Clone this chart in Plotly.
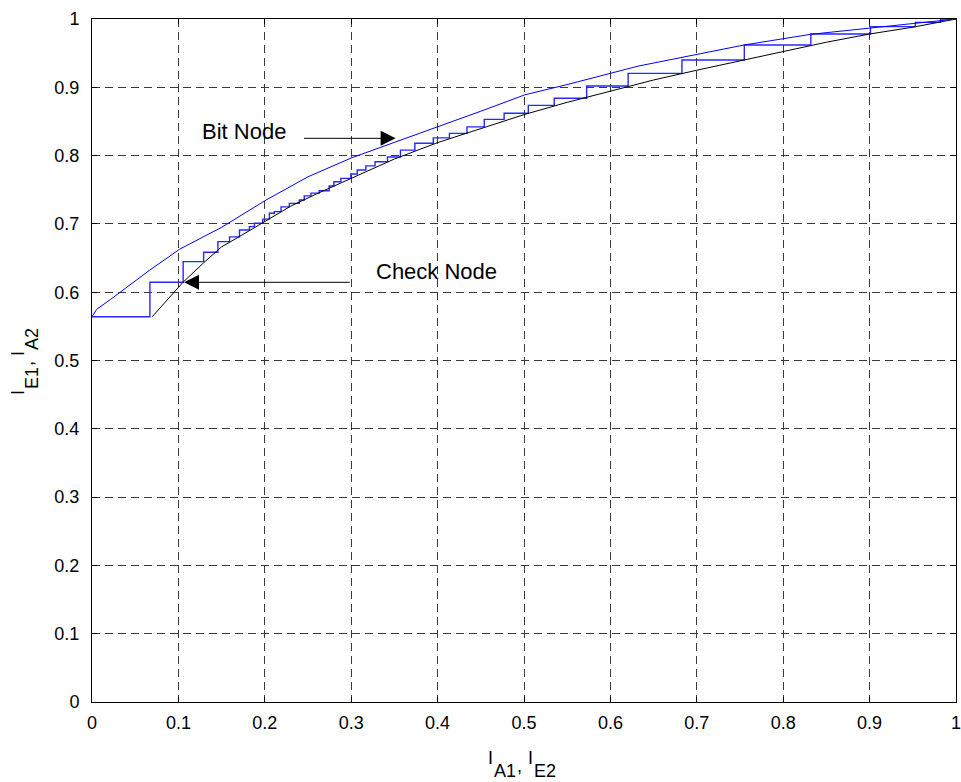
import plotly.graph_objects as go

# Bit node EXIT curve (blue)
bit_x = [0, 0.0054, 0.021, 0.044, 0.067, 0.1015, 0.15, 0.2015, 0.25, 0.301, 0.35, 0.40,
         0.45, 0.501, 0.55, 0.632, 0.70, 0.755, 0.832, 0.901, 0.95, 1.0]
bit_y = [0.564, 0.575, 0.589, 0.6105, 0.6325, 0.663, 0.695, 0.735, 0.769, 0.797, 0.819, 0.842,
         0.865, 0.889, 0.904, 0.931, 0.948, 0.962, 0.9776, 0.987, 0.994, 1.0]

# Check node EXIT curve (black, axes swapped)
chk_x = [0.0696, 0.1053, 0.1292, 0.1496, 0.1727, 0.20, 0.23, 0.26, 0.30, 0.35, 0.40, 0.45,
         0.50, 0.55, 0.60, 0.65, 0.70, 0.75, 0.80, 0.85, 0.90, 0.95, 1.0]
chk_y = [0.564, 0.6145, 0.643, 0.666, 0.683, 0.703, 0.726, 0.744, 0.767, 0.795, 0.819, 0.840,
         0.860, 0.878, 0.894, 0.9107, 0.925, 0.9386, 0.953, 0.966, 0.978, 0.988, 1.0]

# Decoding trajectory: x positions of each upward step, and levels (before/after steps)
step_x = [0.067, 0.1055, 0.1292, 0.1457, 0.1592, 0.1707, 0.1822, 0.188, 0.1976, 0.2053,
          0.211, 0.2188, 0.2284, 0.240, 0.2457, 0.2534, 0.263, 0.2745, 0.280, 0.288,
          0.2995, 0.307, 0.317, 0.3276, 0.342, 0.357, 0.3737, 0.395, 0.4137, 0.434,
          0.454, 0.477, 0.505, 0.535, 0.5725, 0.6205, 0.6828, 0.755, 0.832, 0.901,
          0.953, 0.982]
step_levels = [0.564, 0.6145, 0.6447, 0.6584, 0.674, 0.681, 0.691, 0.696, 0.701, 0.707,
               0.7155, 0.718, 0.725, 0.730, 0.735, 0.741, 0.745, 0.7486, 0.7555, 0.7618,
               0.7667, 0.773, 0.779, 0.785, 0.791, 0.798, 0.808, 0.818, 0.826, 0.8326,
               0.842, 0.853, 0.862, 0.8736, 0.8839, 0.9019, 0.9204, 0.94, 0.962, 0.978,
               0.9888, 0.995, 1.0]

tick_vals = [0, 0.1, 0.2, 0.3, 0.4, 0.5, 0.6, 0.7, 0.8, 0.9, 1]
tick_text = ["0", "0.1", "0.2", "0.3", "0.4", "0.5", "0.6", "0.7", "0.8", "0.9", "1"]

traj_x = [0.0]
traj_y = [step_levels[0]]
for i, sx in enumerate(step_x):
    traj_x += [sx, sx]
    traj_y += [step_levels[i], step_levels[i + 1]]
traj_x.append(1.0)
traj_y.append(step_levels[-1])

FONT = "Liberation Sans, Arial, sans-serif"

fig = go.Figure()
fig.add_trace(go.Scatter(x=traj_x, y=traj_y, mode="lines",
                         line=dict(color="rgb(40,40,255)", width=1.4), showlegend=False))
fig.add_trace(go.Scatter(x=chk_x, y=chk_y, mode="lines",
                         line=dict(color="black", width=1), showlegend=False))
fig.add_trace(go.Scatter(x=bit_x, y=bit_y, mode="lines",
                         line=dict(color="blue", width=1), showlegend=False))

axis_common = dict(range=[0, 1], tickvals=tick_vals, ticktext=tick_text,
                   ticks="inside", ticklen=5, tickcolor="black", tickwidth=1,
                   showline=True, linecolor="black", linewidth=1, mirror="ticks",
                   showgrid=True, gridcolor="#3a3a3a", gridwidth=1, griddash="8px,5px",
                   zeroline=False, ticklabeloverflow="allow", automargin=False,
                   tickfont=dict(family=FONT, size=18, color="black"))

fig.update_xaxes(**axis_common, ticklabelstandoff=4)
fig.update_yaxes(**axis_common, ticklabelstandoff=8)

annotations = []
# Arrows
annotations.append(dict(x=0.3514, y=0.8253, ax=0.2437, ay=0.8253, xref="x", yref="y",
                        axref="x", ayref="y", text="", showarrow=True, arrowhead=2,
                        arrowsize=3, arrowwidth=1, arrowcolor="black"))
annotations.append(dict(x=0.1065, y=0.6145, ax=0.30, ay=0.6145, xref="x", yref="y",
                        axref="x", ayref="y", text="", showarrow=True, arrowhead=2,
                        arrowsize=3, arrowwidth=1, arrowcolor="black"))
annotations.append(dict(x=0.1246, y=0.8346, xref="x", yref="y", text="Bit Node",
                        showarrow=False, xanchor="left", yanchor="middle",
                        font=dict(family=FONT, size=22, color="black")))
annotations.append(dict(x=0.3264, y=0.6296, xref="x", yref="y", text="Check Node",
                        showarrow=False, xanchor="left", yanchor="middle",
                        font=dict(family=FONT, size=22, color="black")))

# Axis title pieces (pixel positions converted to paper coords)
L, T, W, H = 92, 19, 864, 683
def px_x(p):
    return (p - L) / W
def px_y(p):
    return (T + H - p) / H

tfont = dict(family=FONT, size=18, color="black")
xt = [("I", 490, 758), ("A1", 505, 771), (",", 519.5, 766), ("I", 530, 758), ("E2", 544.5, 771)]
for txt, cx, cy in xt:
    annotations.append(dict(x=px_x(cx), y=px_y(cy), xref="paper", yref="paper", text=txt,
                            showarrow=False, xanchor="center", yanchor="middle", font=tfont))
yt = [("I", 18, 393), ("E1", 32, 378), (",", 27, 364), ("I", 18, 354), ("A2", 32, 339)]
for txt, cx, cy in yt:
    annotations.append(dict(x=px_x(cx), y=px_y(cy), xref="paper", yref="paper", text=txt,
                            showarrow=False, xanchor="center", yanchor="middle",
                            textangle=-90, font=tfont))

fig.update_layout(width=961, height=782, margin=dict(l=L, r=961 - L - W, t=T, b=782 - T - H,
                                                     autoexpand=False),
                  plot_bgcolor="white", paper_bgcolor="white", annotations=annotations,
                  font=dict(family=FONT))

fig.write_html("out.html")
